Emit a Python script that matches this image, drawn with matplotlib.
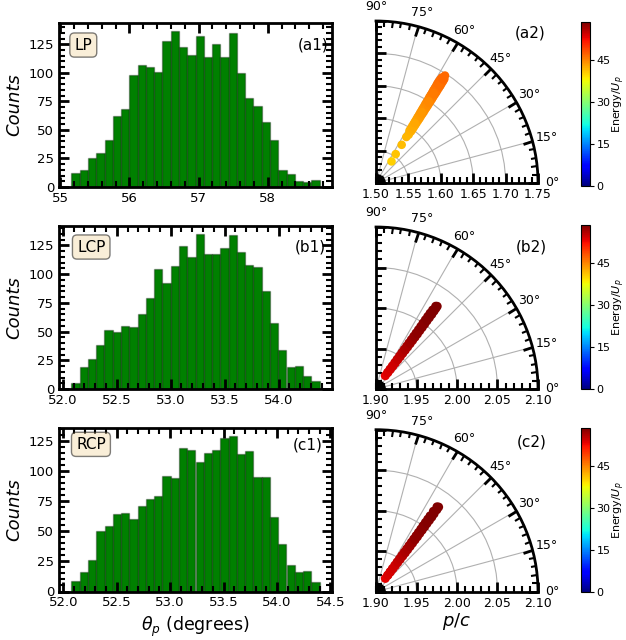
import numpy as np
import matplotlib
matplotlib.use('Agg')
import matplotlib.pyplot as plt
from matplotlib.ticker import AutoMinorLocator, MultipleLocator, FormatStrFormatter

# ---------------- histogram data (30 bins each) ----------------
lp_counts = [12, 15, 25, 30, 41, 62, 68, 98, 107, 105, 101, 128, 137, 123, 116,
             132, 114, 125, 114, 135, 100, 78, 71, 57, 41, 15, 11, 5, 4, 6]
lcp_counts = [5, 19, 26, 38, 51, 50, 55, 54, 65, 79, 104, 92, 107, 124, 115,
              135, 117, 117, 123, 134, 119, 108, 106, 85, 57, 34, 19, 20, 11, 7]
rcp_counts = [9, 16, 26, 50, 54, 64, 65, 60, 71, 77, 79, 96, 94, 119, 117,
              107, 115, 117, 127, 129, 114, 116, 95, 95, 62, 39, 22, 16, 17, 8]
lp_range = (55.16, 58.75)
lcp_range = (52.08, 54.38)
rcp_range = (52.075, 54.40)
hist_tags = ['(a1)', '(b1)', '(c1)']
pol_names = ['LP', 'LCP', 'RCP']

# ---------------- polar scatter data (theta deg, p/c, energy) ----------------
lp_theta = [54.3, 55.7, 56.1, 56.6, 55.9,
            57.4, 57.4, 57.5, 57.5, 57.6, 57.6, 57.7, 57.7, 57.8, 57.8, 57.9, 57.9, 58.0,
            58.0, 58.0, 58.1, 58.1, 58.1, 58.2, 58.2, 58.2, 58.3, 58.3, 58.2, 58.0,
            55.8, 55.8, 55.9, 55.9, 56.0, 56.0, 56.0, 56.1, 56.1, 56.1, 56.2, 56.2, 56.2,
            56.3, 56.3, 56.3, 56.4, 56.4, 56.4, 56.5, 56.5, 56.5, 56.6, 56.6, 56.7,
            57.0, 57.1, 57.1, 57.2, 57.2, 57.3, 57.3]
lp_r = [1.541, 1.554, 1.571, 1.585, 1.590,
        1.596, 1.600, 1.604, 1.608, 1.612, 1.616, 1.620, 1.624, 1.628, 1.632, 1.636, 1.640, 1.644,
        1.648, 1.652, 1.656, 1.660, 1.664, 1.668, 1.672, 1.676, 1.680, 1.684, 1.688, 1.692,
        1.596, 1.600, 1.604, 1.608, 1.612, 1.616, 1.620, 1.624, 1.628, 1.632, 1.636, 1.640, 1.644,
        1.648, 1.652, 1.656, 1.660, 1.664, 1.668, 1.672, 1.676, 1.680, 1.684, 1.688, 1.692,
        1.610, 1.630, 1.650, 1.665, 1.680, 1.690, 1.697]
lp_energy = [40.5, 41.0, 41.5, 42.0, 42.0,
             42.2, 42.4, 42.6, 42.8, 43.0, 43.2, 43.4, 43.6, 43.8, 44.0, 44.2, 44.4, 44.6,
             44.8, 45.0, 45.2, 45.4, 45.6, 45.8, 46.0, 46.2, 46.4, 46.5, 46.6, 46.7,
             42.2, 42.4, 42.6, 42.8, 43.0, 43.2, 43.4, 43.6, 43.8, 44.0, 44.2, 44.4, 44.6,
             44.8, 45.0, 45.2, 45.4, 45.6, 45.8, 46.0, 46.2, 46.4, 46.5, 46.6, 46.7,
             43.0, 43.8, 44.8, 45.6, 46.4, 46.7, 46.8]

lcp_theta = [55.0, 54.9, 54.8, 54.7, 54.6, 54.6, 54.5, 54.5, 54.5, 54.4, 54.4, 54.4,
             54.4, 54.4, 54.4, 54.4, 54.5, 54.5, 54.5, 54.5, 54.4, 54.2,
             54.2, 53.8, 53.6, 53.4, 53.3, 53.2, 53.1, 53.0, 53.0, 53.0, 53.0,
             53.0, 53.0, 53.1, 53.1, 53.1, 53.2, 53.2, 53.2, 53.3, 53.4, 53.5]
lcp_r = [1.920, 1.925, 1.930, 1.935, 1.940, 1.945, 1.950, 1.955, 1.960, 1.965, 1.970, 1.975,
         1.980, 1.985, 1.990, 1.995, 2.000, 2.005, 2.010, 2.015, 2.020, 2.026,
         1.925, 1.930, 1.935, 1.940, 1.945, 1.950, 1.955, 1.960, 1.965, 1.970, 1.975,
         1.980, 1.985, 1.990, 1.995, 2.000, 2.005, 2.010, 2.015, 2.020, 2.024, 2.027]
lcp_energy = [53.5, 53.8, 54.1, 54.4, 54.7, 55.0, 55.3, 55.7, 56.1, 56.5, 56.9, 57.2,
              57.5, 57.7, 57.9, 58.0, 58.1, 58.2, 58.3, 58.4, 58.5, 58.5,
              53.8, 54.1, 54.4, 54.7, 55.0, 55.3, 55.7, 56.1, 56.5, 56.9, 57.2,
              57.5, 57.7, 57.9, 58.0, 58.1, 58.2, 58.3, 58.4, 58.5, 58.5, 58.5]

rcp_theta = [55.0, 54.9, 54.8, 54.7, 54.6, 54.6, 54.5, 54.5, 54.5, 54.4, 54.4, 54.4,
             54.4, 54.4, 54.4, 54.4, 54.5, 54.5, 54.5, 54.5, 54.5, 54.3,
             54.2, 53.8, 53.6, 53.4, 53.3, 53.2, 53.1, 53.0, 53.0, 53.0, 53.0,
             53.0, 53.0, 53.1, 53.1, 53.1, 53.2, 53.2, 53.2, 53.3, 53.4, 53.5]
rcp_r = [1.920, 1.925, 1.930, 1.935, 1.940, 1.945, 1.950, 1.955, 1.960, 1.965, 1.970, 1.975,
         1.980, 1.985, 1.990, 1.995, 2.000, 2.005, 2.010, 2.015, 2.022, 2.029,
         1.925, 1.930, 1.935, 1.940, 1.945, 1.950, 1.955, 1.960, 1.965, 1.970, 1.975,
         1.980, 1.985, 1.990, 1.995, 2.000, 2.005, 2.010, 2.015, 2.020, 2.026, 2.030]
rcp_energy = lcp_energy

pol_rlims = [(1.50, 1.75), (1.90, 2.10), (1.90, 2.10)]
pol_rticks = [[1.50, 1.55, 1.60, 1.65, 1.70, 1.75],
              [1.90, 1.95, 2.00, 2.05, 2.10],
              [1.90, 1.95, 2.00, 2.05, 2.10]]
pol_tags = ['(a2)', '(b2)', '(c2)']
theta_grid = [0, 15, 30, 45, 60, 75, 90]
cbar_ticks = [0, 15, 30, 45]
e_min, e_max = 0.0, 58.6

# ---------------- figure ----------------
W, H = 626, 640
fig = plt.figure(figsize=(W / 100, H / 100), dpi=100)

def fx(px):
    return px / W

def fy(px):
    return 1 - px / H

hist_boxes = [(59, 22.7, 332, 187), (59, 226, 332, 389), (59, 428, 332, 591.5)]
pol_origin_y = [183, 389, 591.7]
pol_R = 162
cbar_boxes = [(580.7, 22.3, 590.3, 185.7), (580.7, 225, 590.3, 389), (580.7, 428, 590.3, 592)]
name_pos = [(0.089, 0.864), (0.118, 0.871), (0.117, 0.900)]
tag1_pos = [(0.93, 0.865), (0.92, 0.873), (0.912, 0.893)]
tag2_pos = [(530, 33), (531.7, 246.7), (531.7, 441.7)]

counts_all = [lp_counts, lcp_counts, rcp_counts]
ranges_all = [lp_range, lcp_range, rcp_range]
thetas_all = [lp_theta, lcp_theta, rcp_theta]
rs_all = [lp_r, lcp_r, rcp_r]
es_all = [lp_energy, lcp_energy, rcp_energy]
msize = [38, 42, 42]

box_props = dict(boxstyle='round', facecolor='wheat', alpha=0.5)

for i in range(3):
    # ---- histogram ----
    x0, y0, x1, y1 = hist_boxes[i]
    ax = fig.add_axes([fx(x0), fy(y1), fx(x1 - x0), (y1 - y0) / H])
    counts = np.array(counts_all[i])
    edges = np.linspace(ranges_all[i][0], ranges_all[i][1], len(counts) + 1)
    ax.bar(edges[:-1], counts, width=np.diff(edges), align='edge',
           color='green', edgecolor=(0, 0, 0, 0.3), linewidth=1)
    ax.yaxis.set_major_locator(MultipleLocator(25))
    if i == 0:
        ax.xaxis.set_major_locator(MultipleLocator(1))
    else:
        ax.xaxis.set_major_locator(MultipleLocator(0.5))
        ax.xaxis.set_major_formatter(FormatStrFormatter('%.1f'))
    ax.xaxis.set_minor_locator(AutoMinorLocator())
    ax.yaxis.set_minor_locator(AutoMinorLocator())
    ax.tick_params(which='both', direction='in', top=True, right=True, labelsize=9.5)
    ax.tick_params(which='major', length=7, width=2)
    ax.tick_params(which='minor', length=4, width=1.5)
    for sp in ax.spines.values():
        sp.set_linewidth(2)
    ax.set_ylabel('Counts', fontsize=13, style='italic')
    ax.text(*tag1_pos[i], hist_tags[i], transform=ax.transAxes, fontsize=11,
            ha='center', va='center')
    ax.text(*name_pos[i], pol_names[i], transform=ax.transAxes, fontsize=11,
            ha='center', va='center', bbox=box_props)
    if i == 2:
        ax.set_xlabel(r'$\theta_p$ (degrees)', fontsize=12.5)

    # ---- polar scatter ----
    oy = pol_origin_y[i]
    pax = fig.add_axes([fx(376), fy(oy), pol_R / W, pol_R / H], projection='polar')
    pax.set_thetamin(0)
    pax.set_thetamax(90)
    pax.set_rlim(*pol_rlims[i])
    pax.set_rticks(pol_rticks[i])
    pax.set_thetagrids(theta_grid)
    pax.xaxis.set_minor_locator(MultipleLocator(np.deg2rad(3)))
    pax.yaxis.set_minor_locator(MultipleLocator(0.01))
    pax.yaxis.set_major_formatter(FormatStrFormatter('%.2f'))
    pax.tick_params(axis='both', which='both', direction='in')
    pax.tick_params(axis='y', which='both', left=True, right=True)
    pax.tick_params(axis='x', which='both', bottom=True, top=True)
    pax.tick_params(which='major', length=7, width=2)
    pax.tick_params(which='minor', length=4, width=1.5)
    pax.tick_params(axis='both', which='major', labelsize=9,
                    grid_color='#b0b0b0', grid_linewidth=0.8)
    for sp in pax.spines.values():
        sp.set_linewidth(2)
    sc = pax.scatter(np.deg2rad(thetas_all[i]), rs_all[i], c=es_all[i], cmap='jet',
                     vmin=e_min, vmax=e_max, s=msize[i], edgecolors='none', zorder=3)
    pax.set_rlim(*pol_rlims[i])
    fig.text(fx(tag2_pos[i][0]), fy(tag2_pos[i][1]), pol_tags[i], fontsize=11,
             ha='center', va='center')

    # ---- colorbar ----
    c0, cy0, c1, cy1 = cbar_boxes[i]
    cax = fig.add_axes([fx(c0), fy(cy1), fx(c1 - c0), (cy1 - cy0) / H])
    cb = fig.colorbar(sc, cax=cax, ticks=cbar_ticks)
    cb.ax.tick_params(labelsize=8, length=3, pad=1.5)
    cb.set_label('Energy/$U_p$', fontsize=8, labelpad=0)

fig.text(fx(457), fy(622), '$p/c$', fontsize=13, ha='center', va='center')

fig.savefig('out.png', dpi=100)
